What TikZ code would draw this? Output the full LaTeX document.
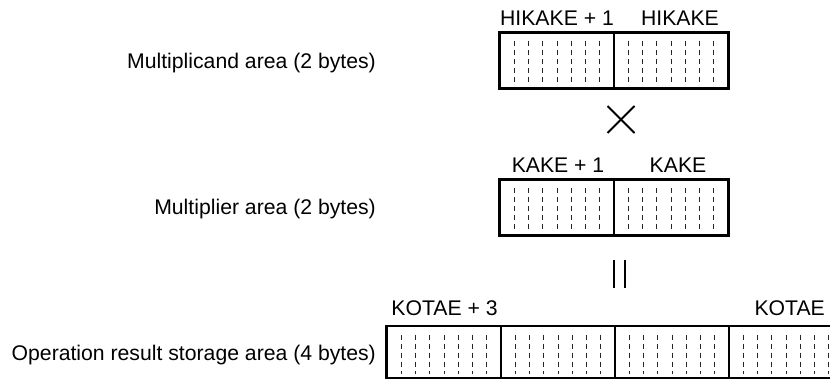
\documentclass[tikz,border=0pt]{standalone}
\usepackage{fontspec}
\setmainfont{Liberation Sans}
\begin{document}
\begin{tikzpicture}[x=1pt,y=-1pt,
  lbl/.style={font=\fontsize{21.2}{24}\selectfont, inner sep=0pt},
  bytebox/.style={draw, line width=1.5pt, minimum width=114pt, minimum height=#1, inner sep=0pt,
    path picture={
      \foreach \i in {1,...,7}{
        \draw[line width=1pt, black!85, dash pattern=on 5pt off 4pt]
          ([xshift=\i*14.25pt, yshift=-8pt]path picture bounding box.north west) --
          ([xshift=\i*14.25pt, yshift=4pt]path picture bounding box.south west);
      }}},
  bytebox/.default=55pt,
  frame/.style={draw, line width=2.2pt},
  sym/.style={line width=2pt}
]
\clip (0,0) rectangle (830,381);
% multiplicand
\node[bytebox] (a1) at (557,60.5) {};
\node[bytebox] (a0) at (671,60.5) {};
\draw[frame] (a1.north west) rectangle (a0.south east);
\node[lbl, anchor=base] (la1) at (557,25) {HIKAKE + 1};
\node[lbl, anchor=base] (la0) at (680,25) {HIKAKE};
\node[lbl, anchor=base east] (ta) at (376,68) {Multiplicand area (2 bytes)};
% times
\coordinate (xc) at (621,119.5);
\draw[sym] ([shift={(-13.5,-13.5)}]xc) -- ([shift={(13.5,13.5)}]xc);
\draw[sym] ([shift={(-13.5,13.5)}]xc) -- ([shift={(13.5,-13.5)}]xc);
% multiplier
\node[bytebox] (b1) at (557,207.5) {};
\node[bytebox] (b0) at (671,207.5) {};
\draw[frame] (b1.north west) rectangle (b0.south east);
\node[lbl, anchor=base] (lb1) at (558,172) {KAKE + 1};
\node[lbl, anchor=base] (lb0) at (678,172) {KAKE};
\node[lbl, anchor=base east] (tb) at (376,214) {Multiplier area (2 bytes)};
% equals
\coordinate (ec) at (619.5,274);
\draw[line width=2.6pt] ([shift={(-5.5,-14)}]ec) -- ([shift={(-5.5,14)}]ec);
\draw[line width=2.6pt] ([shift={(5.5,-14)}]ec) -- ([shift={(5.5,14)}]ec);
% result
\node[bytebox=51pt] (c3) at (444,352) {};
\node[bytebox=51pt] (c2) at (558,352) {};
\node[bytebox=51pt] (c1) at (672,352) {};
\node[bytebox=51pt] (c0) at (786,352) {};
\draw[frame] (c3.north west) rectangle (c0.south east);
\node[lbl, anchor=base] (lc3) at (444.5,315) {KOTAE + 3};
\node[lbl, anchor=base east] (lc0) at (825,315) {KOTAE};
\node[lbl, anchor=base east] (tc) at (376,360) {Operation result storage area (4 bytes)};
\end{tikzpicture}
\end{document}
